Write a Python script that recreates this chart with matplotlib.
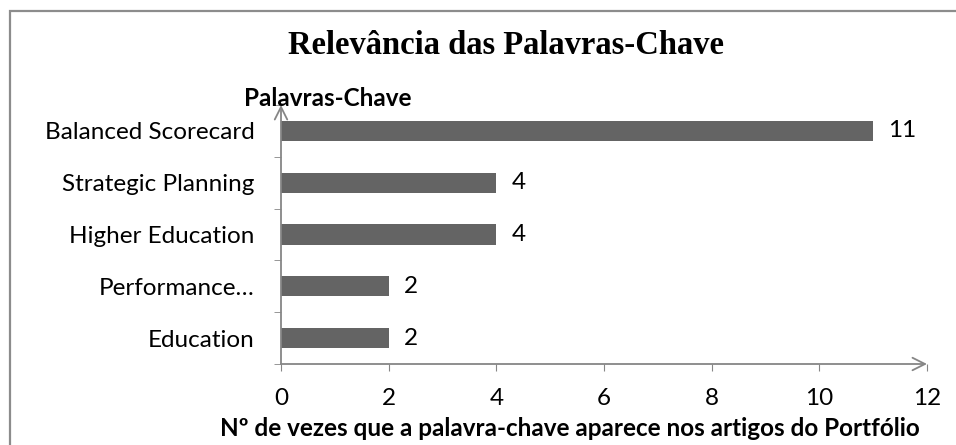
import matplotlib
matplotlib.use('Agg')
import matplotlib.pyplot as plt
from matplotlib.patches import Rectangle

# data
keywords = ['Balanced Scorecard', 'Strategic Planning', 'Higher Education', 'Performance…', 'Education']
counts = [11, 4, 4, 2, 2]
xticks = [0, 2, 4, 6, 8, 10, 12]

gray = '#868686'
bar_color = '#646464'
sans = 'Lato'
fs = 17.5

fig = plt.figure(figsize=(9.56, 4.45), dpi=100)
ax = fig.add_axes([281/956, 1-364/445, (927-281)/956, (364-105)/445])

ypos = list(range(len(keywords)))[::-1]
ax.barh(ypos, counts, height=0.39, color=bar_color)
for y, v in zip(ypos, counts):
    ax.text(v + 0.28, y, str(v), va='center', ha='left', fontsize=fs, family=sans, color='black')

ax.set_xlim(0, 12)
ax.set_ylim(-0.5, len(keywords) - 0.5)
ax.set_xticks(xticks)
ax.set_xticklabels([str(t) for t in xticks], fontsize=fs, family=sans)
ax.set_yticks(ypos)
ax.set_yticklabels(keywords, fontsize=fs, family=sans)
ax.set_yticks([i + 0.5 for i in range(-1, len(keywords))], minor=True)
ax.tick_params(axis='y', which='major', length=0, pad=19)
ax.tick_params(axis='y', which='minor', length=5, color=gray, direction='out')
ax.tick_params(axis='x', length=5, color=gray, direction='out', pad=12)

for s in ax.spines.values():
    s.set_visible(False)

# axis lines with open arrow heads
arrow = dict(arrowstyle='->,head_length=0.9,head_width=0.45', color=gray, lw=1.3, shrinkA=0, shrinkB=0)
ax.annotate('', xy=(1.0, 0), xytext=(0, 0), xycoords='axes fraction', arrowprops=arrow)
ax.annotate('', xy=(0, 1.0), xytext=(0, 0), xycoords='axes fraction', arrowprops=arrow)

# x axis title, placed by baseline so descenders stay inside the figure
fig.text(570/956, 1-436/445, 'Nº de vezes que a palavra-chave aparece nos artigos do Portfólio',
         ha='center', va='baseline', fontsize=fs, family=sans, fontweight='bold')

fig.text(328/956, 1-98/445, 'Palavras-Chave', ha='center', va='center',
         fontsize=fs, family=sans, fontweight='bold')
fig.text(506/956, 1-46/445, 'Relevância das Palavras-Chave', ha='center', va='center',
         fontsize=23.5, family='Liberation Serif', fontweight='bold')

# chart border (cut off at right/bottom in the reference)
fig.patches.append(Rectangle((10/956, -0.1), 1.2, 1.1 - 11/445, transform=fig.transFigure,
                             fill=False, edgecolor='#8c8c8c', linewidth=1.6))

fig.savefig('out.png', dpi=100)
